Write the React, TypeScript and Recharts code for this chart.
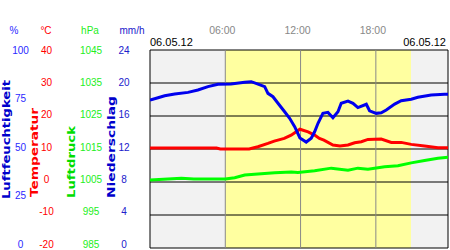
import { LineChart, Line, XAxis, YAxis, ReferenceArea, ReferenceLine } from 'recharts';

// Stunden seit Mitternacht (06.05.12) und Messwerte
const humHours = [0, 0.64, 1.17, 1.97, 3.03, 3.82, 4.62, 5.42, 6.45, 7.55, 8.07, 8.61, 9.14, 9.4, 9.8, 10.2, 10.73, 11.13, 11.53, 11.95, 12.45, 12.85, 13.12, 13.39, 13.78, 14.18, 14.58, 14.98, 15.24, 15.78, 16.18, 16.57, 17.24, 17.5, 18.03, 18.43, 18.83, 19.5, 20.02, 20.82, 21.35, 22.41, 23.48, 23.75];
const humValues = [74.7, 75.9, 76.9, 77.8, 78.6, 79.8, 81.5, 82.7, 82.8, 83.7, 84.0, 82.8, 81.5, 78.1, 76.4, 73.1, 68.8, 65.5, 61.3, 55.6, 53.5, 55.4, 58.7, 63, 68, 68.5, 65.8, 68.8, 73.1, 74.2, 73.1, 70.9, 72.6, 69.3, 68, 68.3, 69.7, 72.7, 74.4, 75.1, 76.1, 77.3, 77.6, 77.6];

const tempHours = [0, 5.3, 5.6, 7.9, 8.6, 9.4, 9.9, 10.7, 11.25, 11.65, 11.95, 12.6, 13.12, 13.5, 13.86, 14.58, 15.14, 15.78, 16.31, 16.84, 17.37, 18.43, 19.23, 20.02, 20.82, 21.88, 22.95, 23.75];
const tempValues = [10.3, 10.3, 10.0, 10.0, 10.7, 11.7, 12.4, 13.2, 14.2, 15.2, 16.0, 15.2, 14.2, 13.2, 12.7, 11.2, 10.9, 11.2, 11.9, 12.2, 12.9, 13.0, 12.0, 12.0, 11.4, 10.9, 10.4, 10.4];

const presHours = [0, 2.5, 3.5, 6.0, 6.75, 7.55, 8.6, 9.94, 11.26, 11.79, 13.12, 14.45, 15.78, 16.57, 17.37, 18.7, 19.76, 20.82, 21.88, 22.95, 23.75];
const presValues = [1005.6, 1006.1, 1005.9, 1005.9, 1006.3, 1007.1, 1007.4, 1007.8, 1008.0, 1007.9, 1008.4, 1009.2, 1008.6, 1009.2, 1008.9, 1009.6, 1009.9, 1010.8, 1011.5, 1012.2, 1012.5];

// kein Niederschlag
const precHours = [0, 23.75];
const precValues = [0, 0];

const timeTicks = [6, 12, 18];
const timeLabels = ['06:00', '12:00', '18:00'];
const humTicks = [0, 25, 50, 75, 100];
const tempTicks = [-20, -10, 0, 10, 20, 30, 40];
const presTicks = [985, 995, 1005, 1015, 1025, 1035, 1045];
const precTicks = [0, 4, 8, 12, 16, 20, 24];
const gridTemps = [30, 20, 10, 0, -10];
const dayLabel = '06.05.12';
const createdLabel = 'Erstellt: 07.05.2012 04:08';

const humData = humHours.map((h, i) => ({ h, v: humValues[i] }));
const tempData = tempHours.map((h, i) => ({ h, v: tempValues[i] }));
const presData = presHours.map((h, i) => ({ h, v: presValues[i] }));
const precData = precHours.map((h, i) => ({ h, v: precValues[i] }));

const FONT = '"Liberation Sans", Arial, sans-serif';
const BOLD = '"DejaVu Sans", sans-serif';

function makeTick(cx: number, color: string) {
  return (props: any) => {
    const { y, payload } = props;
    const yy = 50 + (y - 50) * 0.98;
    return (
      <text x={cx} y={yy} dy="0.35em" textAnchor="middle" fill={color} fontSize={10} fontFamily={FONT}>
        {payload.value}
      </text>
    );
  };
}

function TimeTick(props: any) {
  const { x, payload } = props;
  const idx = timeTicks.indexOf(payload.value);
  return (
    <text x={x - 3} y={30} dy="0.35em" textAnchor="middle" fill="#888" fontSize={10.5} fontFamily={FONT}>
      {timeLabels[idx]}
    </text>
  );
}

function VTitle({ x, y, len, color, label }: { x: number; y: number; len: number; color: string; label: string }) {
  return (
    <text
      x={x}
      y={y}
      transform={`rotate(-90 ${x} ${y})`}
      fill={color}
      fontSize={11}
      fontWeight="bold"
      fontFamily={BOLD}
      textLength={len}
      lengthAdjust="spacingAndGlyphs"
    >
      {label}
    </text>
  );
}

export default function App() {
  return (
    <div style={{ position: 'absolute', left: 0, top: 0, width: 450, height: 250 }}>
      <LineChart width={450} height={250} margin={{ top: 0, right: 2, bottom: 2, left: 0 }}>
        <XAxis
          xAxisId="t"
          type="number"
          dataKey="h"
          orientation="top"
          domain={[0, 23.75]}
          ticks={timeTicks}
          height={50}
          axisLine={false}
          tickLine={false}
          tick={<TimeTick />}
          interval={0}
          allowDataOverflow
        />
        <YAxis yAxisId="hum" domain={[0, 100]} ticks={humTicks} interval={0} width={30} axisLine={false} tickLine={false} tick={makeTick(20.5, '#2a2aff')} />
        <YAxis yAxisId="temp" domain={[-20, 40]} ticks={tempTicks} interval={0} width={40} axisLine={false} tickLine={false} tick={makeTick(46.5, '#ff0000')} />
        <YAxis yAxisId="pres" domain={[985, 1045]} ticks={presTicks} interval={0} width={40} axisLine={false} tickLine={false} tick={makeTick(91, '#22ee22')} />
        <YAxis yAxisId="prec" domain={[0, 24]} ticks={precTicks} interval={0} width={40} axisLine={false} tickLine={false} tick={makeTick(124, '#2020cc')} />

        <ReferenceArea xAxisId="t" yAxisId="temp" x1={0} x2={23.75} y1={-20} y2={40} fill="#f2f2f2" fillOpacity={1} stroke="none" />
        <ReferenceArea xAxisId="t" yAxisId="temp" x1={6} x2={20.8} y1={-20} y2={40} fill="#ffffa0" fillOpacity={1} stroke="none" />
        {gridTemps.map((t) => (
          <ReferenceLine key={t} xAxisId="t" yAxisId="temp" y={t} stroke="#000" strokeWidth={1} />
        ))}
        {timeTicks.map((h) => (
          <ReferenceLine key={h} xAxisId="t" yAxisId="temp" x={h} stroke="#888" strokeWidth={1} />
        ))}

        <Line xAxisId="t" yAxisId="prec" data={precData} dataKey="v" type="linear" stroke="none" dot={false} isAnimationActive={false} />
        <Line xAxisId="t" yAxisId="pres" data={presData} dataKey="v" type="linear" stroke="#00ff00" strokeWidth={3} dot={false} isAnimationActive={false} />
        <Line xAxisId="t" yAxisId="temp" data={tempData} dataKey="v" type="linear" stroke="#ff0000" strokeWidth={3} dot={false} isAnimationActive={false} />
        <Line xAxisId="t" yAxisId="hum" data={humData} dataKey="v" type="linear" stroke="#0000ee" strokeWidth={3} dot={false} isAnimationActive={false} />

        <ReferenceArea xAxisId="t" yAxisId="temp" x1={0} x2={23.75} y1={-20} y2={40} fill="none" stroke="#000" strokeWidth={1} />

        <text x={14} y={30} dy="0.35em" textAnchor="middle" fill="#2a2aff" fontSize={10} fontFamily={FONT}>%</text>
        <text x={46} y={30} dy="0.35em" textAnchor="middle" fill="#ff0000" fontSize={10} fontFamily={FONT}>°C</text>
        <text x={90} y={30} dy="0.35em" textAnchor="middle" fill="#22ee22" fontSize={10} fontFamily={FONT}>hPa</text>
        <text x={132} y={30} dy="0.35em" textAnchor="middle" fill="#2020cc" fontSize={10} fontFamily={FONT}>mm/h</text>

        <VTitle x={9.5} y={199} len={119} color="#0000cc" label="Luftfeuchtigkeit" />
        <VTitle x={38} y={197} len={89} color="#ff0000" label="Temperatur" />
        <VTitle x={75} y={198} len={72} color="#00dd00" label="Luftdruck" />
        <VTitle x={115} y={198} len={102} color="#0000cc" label="Niederschlag" />

        <text x={150} y={42.5} dy="0.35em" textAnchor="start" fill="#000" fontSize={11} fontFamily={FONT}>{dayLabel}</text>
        <text x={446} y={42.5} dy="0.35em" textAnchor="end" fill="#000" fontSize={11} fontFamily={FONT}>{dayLabel}</text>
        <text x={175} y={240.5} dy="0.35em" textAnchor="start" fill="#8a8a8a" fontSize={10.5} fontFamily={FONT}>{createdLabel}</text>
      </LineChart>
    </div>
  );
}
